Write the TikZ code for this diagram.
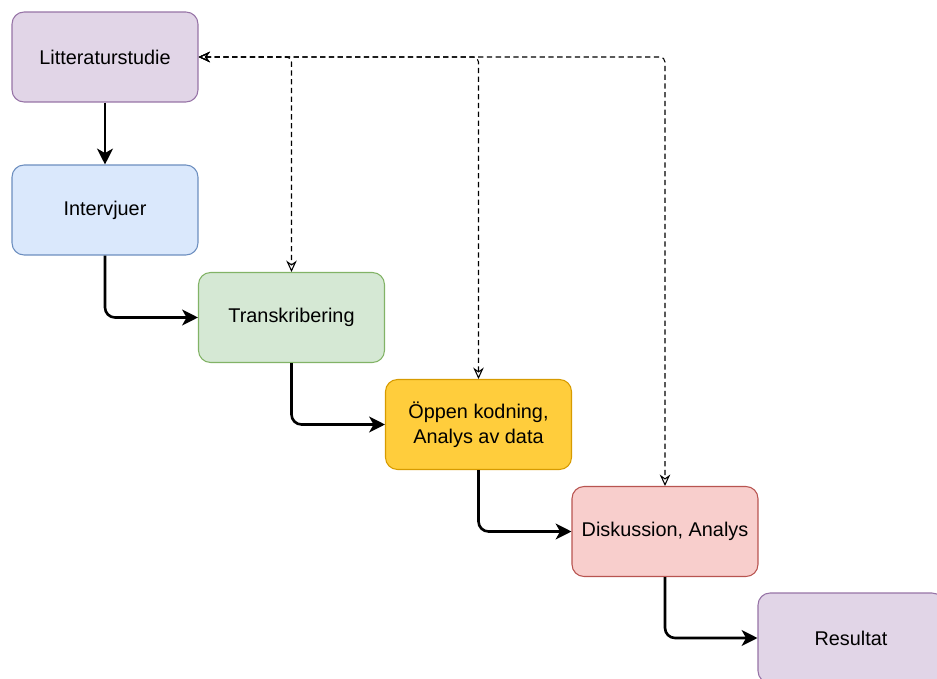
\documentclass[tikz,border=0pt]{standalone}
\usepackage{fontspec}
\setmainfont{Liberation Sans}
\usetikzlibrary{arrows.meta}

\definecolor{lilafill}{HTML}{E1D5E7}
\definecolor{lilaline}{HTML}{9673A6}
\definecolor{blafill}{HTML}{DAE8FC}
\definecolor{blaline}{HTML}{6C8EBF}
\definecolor{gronfill}{HTML}{D5E8D4}
\definecolor{gronline}{HTML}{82B366}
\definecolor{gulfill}{HTML}{FFCD3C}
\definecolor{gulline}{HTML}{D79B00}
\definecolor{rodfill}{HTML}{F8CECC}
\definecolor{rodline}{HTML}{B85450}

\tikzset{
	box/.style={draw, rounded corners=0.24cm, line width=0.6pt, inner sep=0pt,
		minimum width=3.72cm, minimum height=1.8cm, align=center,
		font=\fontsize{11.3}{14.5}\selectfont},
	flow/.style={line width=1.5pt, rounded corners=0.2cm,
		-{Stealth[length=9pt,width=9pt,inset=2.5pt]}},
	back/.style={line width=0.6pt, dash pattern=on 3pt off 2pt, rounded corners=0.1cm,
		{Stealth[open,length=6.5pt,width=6pt]}-{Stealth[open,length=6.5pt,width=6pt]}}
}

\begin{document}
\begin{tikzpicture}[x=0.02cm,y=-0.02cm]
	\useasboundingbox (0,0) rectangle (937,679);

	\node[box, fill=lilafill, draw=lilaline] (lit) at (105,57) {Litteraturstudie};
	\node[box, fill=blafill, draw=blaline] (int) at (105,210) {Intervjuer};
	\node[box, fill=gronfill, draw=gronline] (tra) at (291.5,317.5) {Transkribering};
	\node[box, fill=gulfill, draw=gulline] (kod) at (478.5,424.5) {Öppen kodning,\\Analys av data};
	\node[box, fill=rodfill, draw=rodline] (dis) at (665,531.5) {Diskussion, Analys};
	\node[box, fill=lilafill, draw=lilaline] (res) at (851,638) {Resultat};

	% steg
	\draw[flow] (lit) -- (int);
	\draw[flow] (int.south) |- (tra.west);
	\draw[flow] (tra.south) |- (kod.west);
	\draw[flow] (kod.south) |- (dis.west);
	\draw[flow] (dis.south) |- (res.west);

	% tillbaka till litteraturen
	\draw[back] (lit.east) -| (tra.north);
	\draw[back] (lit.east) -| (kod.north);
	\draw[back] (lit.east) -| (dis.north);
\end{tikzpicture}
\end{document}
